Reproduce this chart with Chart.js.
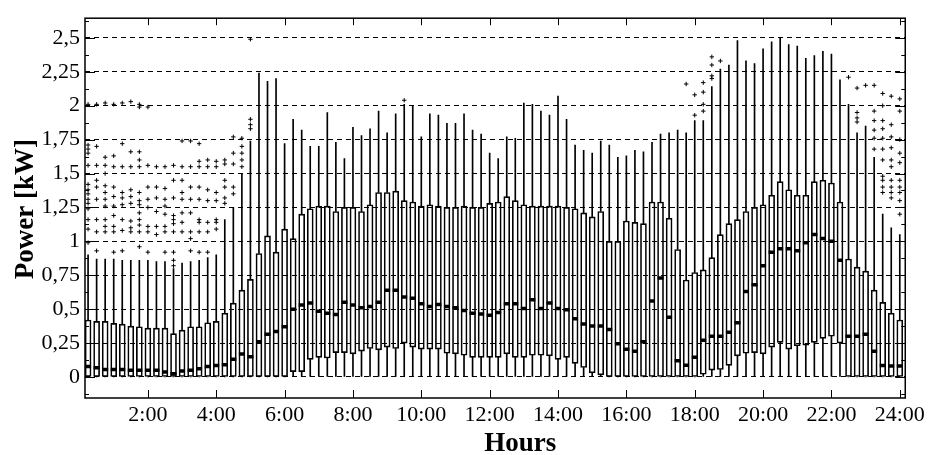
<!DOCTYPE html>
<html>
<head>
<meta charset="utf-8">
<script src="https://cdn.jsdelivr.net/npm/chart.js@4.4.1/dist/chart.umd.min.js"></script>
<style>
  html, body { margin: 0; padding: 0; background: #fff; }
</style>
</head>
<body>
<canvas id="powerChart" width="929" height="455"></canvas>
<script>
// 15-minute intervals, hours of day
const hours = [
  0.25, 0.5, 0.75, 1, 1.25, 1.5, 1.75, 2,
  2.25, 2.5, 2.75, 3, 3.25, 3.5, 3.75, 4,
  4.25, 4.5, 4.75, 5, 5.25, 5.5, 5.75, 6,
  6.25, 6.5, 6.75, 7, 7.25, 7.5, 7.75, 8,
  8.25, 8.5, 8.75, 9, 9.25, 9.5, 9.75, 10,
  10.25, 10.5, 10.75, 11, 11.25, 11.5, 11.75, 12,
  12.25, 12.5, 12.75, 13, 13.25, 13.5, 13.75, 14,
  14.25, 14.5, 14.75, 15, 15.25, 15.5, 15.75, 16,
  16.25, 16.5, 16.75, 17, 17.25, 17.5, 17.75, 18,
  18.25, 18.5, 18.75, 19, 19.25, 19.5, 19.75, 20,
  20.25, 20.5, 20.75, 21, 21.25, 21.5, 21.75, 22,
  22.25, 22.5, 22.75, 23, 23.25, 23.5, 23.75, 24
];

// box statistics (kW)
const whiskerLow = [
  0, 0, 0, 0, 0, 0, 0, 0,  0, 0, 0, 0, 0, 0, 0, 0,
  0, 0, 0, 0, 0, 0, 0, 0,  0, 0, 0, 0, 0, 0, 0, 0,
  0, 0, 0, 0, 0, 0, 0, 0,  0, 0, 0, 0, 0, 0, 0, 0,
  0, 0, 0, 0, 0, 0, 0, 0,  0, 0, 0, 0, 0, 0, 0, 0,
  0, 0, 0, 0, 0, 0, 0, 0,  0, 0, 0, 0, 0, 0, 0, 0,
  0, 0, 0, 0, 0, 0, 0, 0,  0, 0, 0, 0, 0, 0, 0, 0
];
const q1 = [
  0, 0, 0, 0, 0, 0, 0, 0,
  0, 0, 0, 0, 0, 0, 0, 0,
  0, 0, 0, 0, 0, 0, 0, 0,
  0.04, 0.04, 0.13, 0.145, 0.14, 0.18, 0.18, 0.17,
  0.19, 0.21, 0.20, 0.22, 0.21, 0.25, 0.22, 0.205,
  0.205, 0.205, 0.175, 0.17, 0.16, 0.145, 0.145, 0.145,
  0.145, 0.17, 0.145, 0.145, 0.16, 0.16, 0.155, 0.13,
  0.145, 0.10, 0.07, 0.03, 0.015, 0, 0, 0,
  0, 0, 0, 0, 0, 0, 0, 0,
  0.02, 0.05, 0.055, 0.085, 0.155, 0.175, 0.18, 0.17,
  0.22, 0.255, 0.205, 0.23, 0.235, 0.255, 0.285, 0.30,
  0.25, 0, 0, 0, 0, 0, 0, 0
];
const median = [
  0.078, 0.068, 0.055, 0.055, 0.055, 0.05, 0.05, 0.05,
  0.05, 0.036, 0.024, 0.044, 0.05, 0.06, 0.078, 0.085,
  0.09, 0.13, 0.17, 0.15, 0.26, 0.315, 0.335, 0.37,
  0.50, 0.53, 0.545, 0.485, 0.47, 0.46, 0.55, 0.53,
  0.51, 0.52, 0.55, 0.64, 0.64, 0.59, 0.58, 0.54,
  0.52, 0.535, 0.52, 0.51, 0.49, 0.47, 0.465, 0.455,
  0.475, 0.54, 0.54, 0.505, 0.57, 0.505, 0.545, 0.505,
  0.495, 0.43, 0.39, 0.375, 0.375, 0.35, 0.245, 0.205,
  0.19, 0.26, 0.56, 0.73, 0.44, 0.12, 0.087, 0.145,
  0.27, 0.30, 0.30, 0.33, 0.40, 0.63, 0.68, 0.82,
  0.92, 0.945, 0.945, 0.93, 0.99, 1.05, 1.02, 1.0,
  0.86, 0.30, 0.30, 0.315, 0.19, 0.085, 0.08, 0.08
];
const q3 = [
  0.42, 0.41, 0.41, 0.395, 0.39, 0.375, 0.37, 0.36,
  0.36, 0.36, 0.32, 0.345, 0.37, 0.37, 0.40, 0.41,
  0.47, 0.545, 0.64, 0.72, 0.91, 1.04, 0.92, 1.09,
  1.02, 1.20, 1.24, 1.26, 1.26, 1.22, 1.25, 1.25,
  1.22, 1.27, 1.36, 1.36, 1.37, 1.30, 1.29, 1.26,
  1.27, 1.26, 1.25, 1.25, 1.26, 1.25, 1.25, 1.28,
  1.29, 1.33, 1.30, 1.27, 1.26, 1.26, 1.26, 1.26,
  1.25, 1.24, 1.21, 1.18, 1.22, 1.00, 1.00, 1.15,
  1.14, 1.13, 1.29, 1.29, 1.17, 0.94, 0.715, 0.77,
  0.79, 0.88, 1.05, 1.13, 1.16, 1.22, 1.25, 1.27,
  1.34, 1.44, 1.38, 1.34, 1.34, 1.44, 1.45, 1.43,
  1.29, 0.87, 0.81, 0.78, 0.64, 0.55, 0.47, 0.42
];
const whiskerHigh = [
  0.90, 0.87, 0.87, 0.87, 0.86, 0.86, 0.86, 0.86,
  0.85, 0.85, 0.80, 0.84, 0.85, 0.86, 0.88, 0.90,
  1.16, 1.25, 1.50, 1.74, 2.24, 2.18, 2.20, 1.72,
  1.90, 1.82, 1.70, 1.70, 1.95, 1.73, 1.61, 1.84,
  1.78, 1.83, 1.96, 1.80, 1.94, 2.01, 2.00, 1.77,
  1.94, 1.93, 1.87, 1.87, 1.94, 1.82, 1.79, 1.65,
  1.61, 1.77, 1.76, 2.02, 2.01, 1.96, 1.93, 2.07,
  1.90, 1.71, 1.67, 1.65, 1.74, 1.71, 1.62, 1.63,
  1.67, 1.66, 1.73, 1.79, 1.80, 1.82, 1.80, 1.89,
  1.89, 2.14, 2.27, 2.30, 2.48, 2.33, 2.31, 2.42,
  2.47, 2.50, 2.45, 2.44, 2.35, 2.37, 2.40, 2.38,
  2.19, 2.01, 1.80, 1.85, 1.62, 1.20, 1.10, 1.05
];

// outliers: [hour, values]
const outliers = [
  [0.25, [2.01, 1.71, 1.68, 1.65, 1.56, 1.42, 1.38, 1.35, 1.31, 1.28, 1.24, 1.16, 1.09, 0.99]],
  [0.5,  [2.01, 1.70, 1.56, 1.45, 1.40, 1.31, 1.16, 1.07, 0.93]],
  [0.75, [2.02, 1.62, 1.56, 1.50, 1.41, 1.36, 1.31, 1.26, 1.16, 1.11, 1.07]],
  [1,    [2.01, 1.63, 1.55, 1.40, 1.33, 1.26, 1.19, 1.11, 1.07, 0.92]],
  [1.25, [2.02, 1.72, 1.55, 1.36, 1.32, 1.27, 1.16, 1.08, 0.93]],
  [1.5,  [2.03, 1.66, 1.55, 1.38, 1.33, 1.28, 1.15, 1.10, 1.07]],
  [1.75, [2.01, 1.99, 1.66, 1.60, 1.55, 1.36, 1.30, 1.27, 1.21, 1.16, 1.12, 1.07, 0.96]],
  [2,    [1.99, 1.56, 1.40, 1.31, 1.25, 1.11, 1.07, 0.92]],
  [2.25, [1.55, 1.40, 1.32, 1.22, 1.11, 1.05]],
  [2.5,  [1.55, 1.39, 1.31, 1.26, 1.20, 1.11, 1.07, 0.92]],
  [2.75, [1.56, 1.45, 1.32, 1.19, 1.16, 1.13, 1.07, 0.92, 0.86, 0.82]],
  [3,    [1.74, 1.55, 1.45, 1.36, 1.31, 1.21, 1.14, 1.07]],
  [3.25, [1.74, 1.55, 1.40, 1.31, 1.21, 1.07, 1.02, 0.93]],
  [3.5,  [1.72, 1.59, 1.55, 1.40, 1.31, 1.16, 1.14, 1.07, 0.92]],
  [3.75, [1.60, 1.55, 1.38, 1.30, 1.14, 1.07, 0.92]],
  [4,    [1.59, 1.55, 1.36, 1.30, 1.16, 1.14, 1.09]],
  [4.25, [1.60, 1.57, 1.45, 1.40, 1.32, 1.28]],
  [4.5,  [1.77, 1.65, 1.57, 1.40, 1.35]],
  [4.75, [1.76, 1.70, 1.65, 1.60, 1.55]],
  [5,    [2.49, 1.90, 1.86, 1.83]],
  [9.5,  [2.04]],
  [17.75, [2.16]],
  [18,   [2.08, 1.93]],
  [18.25, [2.17, 2.10, 2.01, 1.96]],
  [18.5, [2.36, 2.30, 2.22, 2.20]],
  [18.75, [2.33]],
  [22.5, [2.21]],
  [22.75, [2.13, 1.95, 1.91, 1.88]],
  [23,   [2.15]],
  [23.25, [2.15, 1.96, 1.89, 1.82, 1.76, 1.68]],
  [23.5, [2.09, 2.00, 1.89, 1.83, 1.76, 1.68, 1.60, 1.48, 1.45, 1.40, 1.36]],
  [23.75, [2.07, 1.86, 1.77, 1.69, 1.60, 1.55, 1.45, 1.40, 1.36, 1.32]],
  [24,   [2.05, 1.96, 1.75, 1.65, 1.58, 1.45, 1.40, 1.36, 1.30, 1.20]]
];

// axis ticks
const xTicks = [2, 4, 6, 8, 10, 12, 14, 16, 18, 20, 22, 24];
const xTickLabels = ['2:00', '4:00', '6:00', '8:00', '10:00', '12:00', '14:00', '16:00', '18:00', '20:00', '22:00', '24:00'];
const yTicks = [0, 0.25, 0.5, 0.75, 1, 1.25, 1.5, 1.75, 2, 2.25, 2.5];
const yTickLabels = ['0', '0,25', '0,5', '0,75', '1', '1,25', '1,5', '1,75', '2', '2,25', '2,5'];

const outlierPoints = [];
outliers.forEach(([h, vals]) => vals.forEach(v => outlierPoints.push({x: h, y: v})));

const serif = '"Liberation Serif", "Times New Roman", serif';

// frame, inner tick marks and axis titles
const framePlugin = {
  id: 'frame',
  afterDatasetsDraw(chart) {
    const {ctx, chartArea: a, scales: {x, y}} = chart;
    ctx.save();
    ctx.strokeStyle = '#000';
    ctx.lineWidth = 1;
    ctx.beginPath();
    xTicks.forEach(h => {
      const px = Math.round(x.getPixelForValue(h)) + 0.5;
      ctx.moveTo(px, a.bottom); ctx.lineTo(px, a.bottom - 8);
      ctx.moveTo(px, a.top); ctx.lineTo(px, a.top + 7);
    });
    for (let k = -1; k <= 21; k++) {
      const py = Math.round(y.getPixelForValue(k * 0.125)) + 0.5;
      const len = k % 2 === 0 ? 10 : 4;
      ctx.moveTo(a.left, py); ctx.lineTo(a.left + len, py);
      ctx.moveTo(a.right, py); ctx.lineTo(a.right - len, py);
    }
    ctx.stroke();
    ctx.lineWidth = 1.5;
    ctx.strokeRect(a.left, a.top, a.right - a.left, a.bottom - a.top);

    ctx.fillStyle = '#000';
    ctx.font = 'bold 27px ' + serif;
    ctx.textAlign = 'center';
    ctx.textBaseline = 'alphabetic';
    ctx.fillText('Hours', (a.left + a.right) / 2 + 25, a.bottom + 53);
    ctx.translate(a.left - 52, (a.top + a.bottom) / 2 + 1);
    ctx.rotate(-Math.PI / 2);
    ctx.fillText('Power [kW]', 0, 0);
    ctx.restore();
  }
};

new Chart(document.getElementById('powerChart'), {
  type: 'bar',
  data: {
    datasets: [
      {
        type: 'scatter',
        label: 'Median',
        data: hours.map((h, i) => ({x: h, y: median[i]})),
        pointStyle: 'line',
        pointRadius: 3,
        pointBorderWidth: 3.5,
        borderColor: '#000',
        pointBorderColor: '#000',
        order: 0
      },
      {
        type: 'scatter',
        label: 'Outliers',
        data: outlierPoints,
        pointStyle: 'cross',
        pointRadius: 2.2,
        pointBorderWidth: 1,
        borderColor: '#000',
        pointBorderColor: '#000',
        order: 0
      },
      {
        label: 'Box',
        data: hours.map((h, i) => ({x: h, y: [q1[i], q3[i]]})),
        backgroundColor: 'rgba(0,0,0,0)',
        borderColor: '#000',
        borderWidth: 1,
        borderSkipped: false,
        barThickness: 6,
        grouped: false,
        order: 1
      },
      {
        label: 'Upper whisker',
        data: hours.map((h, i) => ({x: h, y: [q3[i], whiskerHigh[i]]})),
        backgroundColor: '#000',
        borderWidth: 0,
        barThickness: 1,
        grouped: false,
        order: 2
      },
      {
        label: 'Lower whisker',
        data: hours.map((h, i) => ({x: h, y: [whiskerLow[i], q1[i]]})),
        backgroundColor: '#000',
        borderWidth: 0,
        barThickness: 1,
        grouped: false,
        order: 2
      }
    ]
  },
  options: {
    responsive: false,
    devicePixelRatio: 1,
    animation: false,
    events: [],
    layout: { padding: { top: 13, right: 23, left: 0, bottom: 0 } },
    plugins: { legend: { display: false }, tooltip: { enabled: false } },
    scales: {
      x: {
        type: 'linear',
        min: 0.16,
        max: 24.16,
        offset: false,
        grid: { display: false, drawTicks: false, offset: false },
        border: { display: false },
        afterBuildTicks: s => { s.ticks = xTicks.map(v => ({value: v})); },
        afterFit: s => { s.height = 57; },
        ticks: {
          autoSkip: false,
          maxRotation: 0,
          padding: 4,
          color: '#000',
          font: { family: serif, size: 22 },
          callback: (v, i) => xTickLabels[i]
        }
      },
      y: {
        min: -0.155,
        max: 2.645,
        grid: { color: '#000', lineWidth: 1, drawTicks: false },
        border: { display: false, dash: [5, 4] },
        afterBuildTicks: s => { s.ticks = yTicks.map(v => ({value: v})); },
        afterFit: s => { s.width = 85; },
        ticks: {
          padding: 5,
          color: '#000',
          font: { family: serif, size: 22 },
          callback: (v, i) => yTickLabels[i]
        }
      }
    }
  },
  plugins: [framePlugin]
});
</script>
</body>
</html>
